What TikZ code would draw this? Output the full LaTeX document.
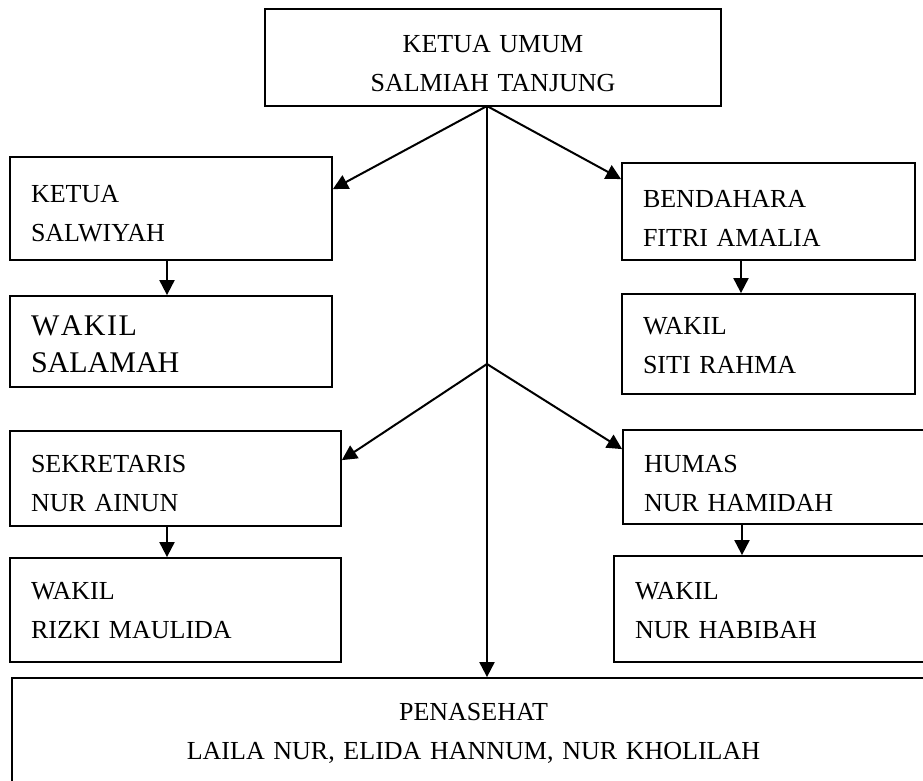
\documentclass[tikz,border=0pt]{standalone}
\usepackage{fontspec}
\setmainfont{Liberation Serif}
\usepackage{tikz}
\usetikzlibrary{arrows.meta, positioning}

\tikzset{
    kotak/.style={draw, line width=1.8pt, inner sep=0pt, font=\fontsize{26}{39}\selectfont},
    kiri/.style={kotak, align=left},
    tengah/.style={kotak, align=center},
    panah/.style={->, line width=2pt}
}

\begin{document}
\begin{tikzpicture}[x=1pt, y=-1pt, >={Triangle[length=15pt, width=15pt]}]
    % 0. Bingkai gambar
    \useasboundingbox (0,0) rectangle (923,780);
    \clip (0,0) rectangle (923,780);

    % 1. Ketua umum
    \node[tengah, minimum width=456, minimum height=97, text width=420, text height=30pt]
        (umum) at (493,57.5) {KETUA UMUM\\SALMIAH TANJUNG};

    % 2. Kotak sebelah kiri
    \node[kiri, minimum width=322, minimum height=103, text width=280, text height=28pt]
        (ketua) at (171,208.5) {KETUA\\SALWIYAH};
    \node[kiri, minimum width=322, minimum height=91, text width=280, text height=26pt,
          font=\fontsize{30}{37}\selectfont]
        (wakilsal) at (171,341.5) {W\kern1.5pt A\kern1.5pt K\kern1.5pt I\kern1.5pt L\\SALAMAH};
    \node[kiri, minimum width=331, minimum height=95, text width=289, text height=28pt]
        (sekretaris) at (175.5,478.5) {SEKRETARIS\\NUR AINUN};
    \node[kiri, minimum width=331, minimum height=104, text width=289, text height=19pt]
        (wakilriz) at (175.5,610) {WAKIL\\RIZKI MAULIDA};

    % 3. Kotak sebelah kanan
    \node[kiri, minimum width=293, minimum height=97, text width=251, text height=30pt]
        (bendahara) at (768.5,211.5) {BENDAHARA\\FITRI AMALIA};
    \node[kiri, minimum width=293, minimum height=100, text width=251, text height=21pt]
        (wakilsiti) at (768.5,344) {WAKIL\\SITI RAHMA};
    \node[kiri, minimum width=312, minimum height=94, text width=270, text height=31pt]
        (humas) at (779,477) {HUMAS\\NUR HAMIDAH};
    \node[kiri, minimum width=321, minimum height=106, text width=279, text height=21pt]
        (wakilhab) at (774.5,609) {WAKIL\\NUR HABIBAH};

    % 4. Penasehat
    \node[tengah, minimum width=923, minimum height=104, text width=880, text height=23pt]
        (penasehat) at (473.5,730) {PENASEHAT\\LAILA NUR, ELIDA HANNUM, NUR KHOLILAH};

    % 5. Titik cabang
    \coordinate (cabang1) at (487,106);
    \coordinate (cabang2) at (487,364);

    % 6. Garis dari ketua umum
    \draw[panah] (cabang1) -- ([yshift=-33pt]ketua.north east);
    \draw[panah] (cabang1) -- ([yshift=-17pt]bendahara.north west);
    \draw[panah] (cabang1) -- (cabang1 |- penasehat.north);
    \draw[panah] (cabang2) -- ([yshift=-30pt]sekretaris.north east);
    \draw[panah] (cabang2) -- ([yshift=-20pt]humas.north west);

    % 7. Panah ke wakil
    \foreach \atas/\bawah/\x in {ketua/wakilsal/167, sekretaris/wakilriz/167,
                                bendahara/wakilsiti/741, humas/wakilhab/742} {
        \draw[panah] (\atas.south -| \x,0) -- (\bawah.north -| \x,0);
    }
\end{tikzpicture}
\end{document}
